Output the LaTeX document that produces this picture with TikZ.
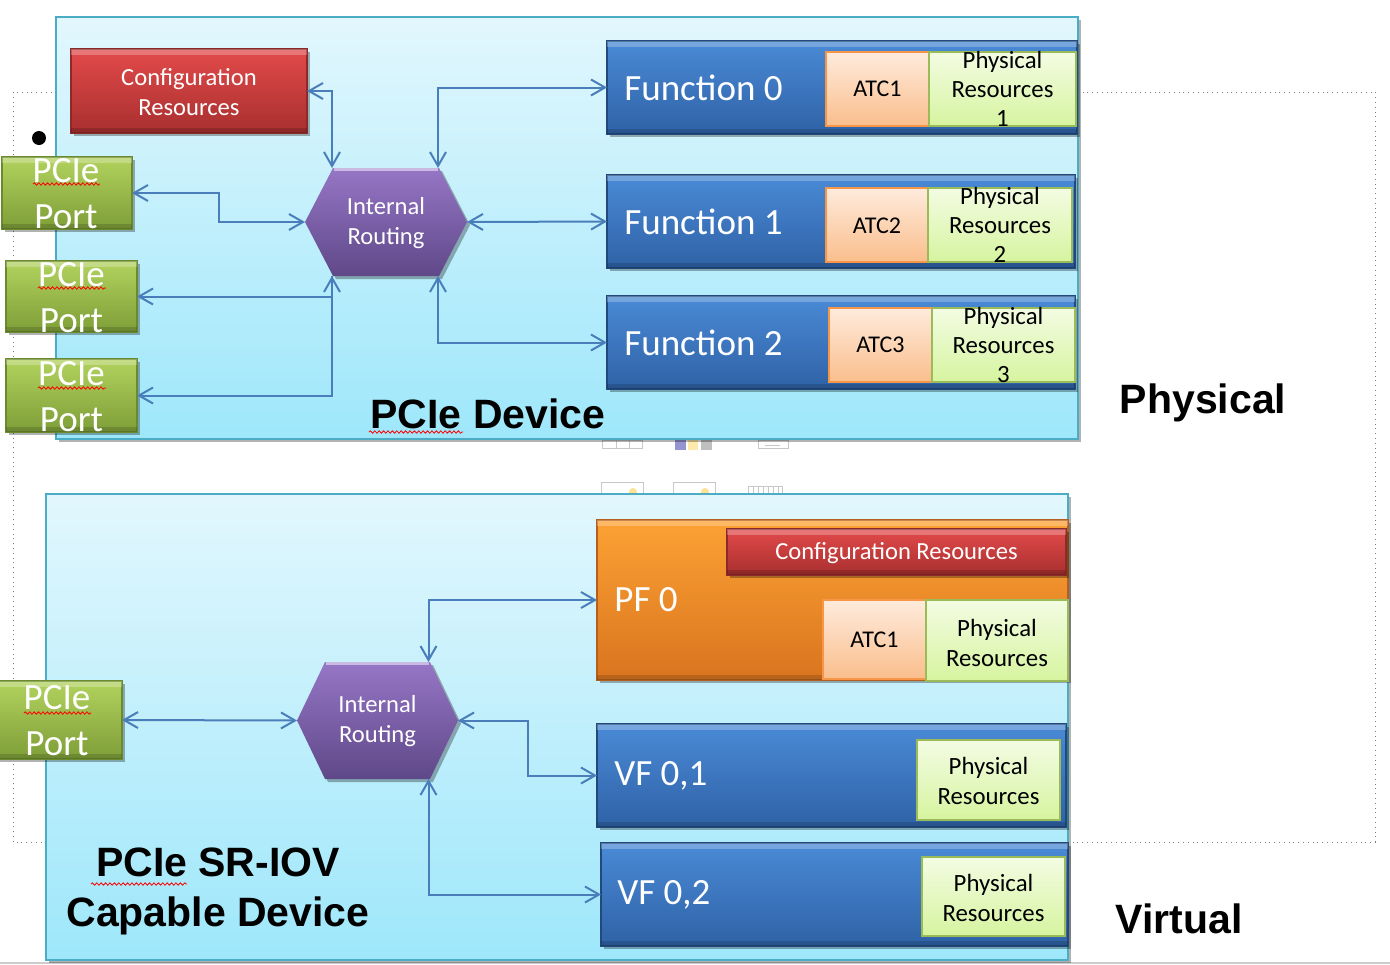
\documentclass[tikz,border=0pt]{standalone}
\usepackage{fontspec}
\setmainfont{Carlito}
\newfontfamily\arialf{Liberation Sans}
\usetikzlibrary{arrows.meta,shadows,fit,calc,decorations.pathmorphing}

\definecolor{devtop}{HTML}{E2F7FD}
\definecolor{devbot}{HTML}{9EE7FB}
\definecolor{devline}{HTML}{4BACC6}
\definecolor{redtop}{HTML}{E34A4A}
\definecolor{redbot}{HTML}{A82F2F}
\definecolor{redline}{HTML}{8C2A2A}
\definecolor{purtop}{HTML}{9676C6}
\definecolor{purbot}{HTML}{5F4888}
\definecolor{grntop}{HTML}{B2D25E}
\definecolor{grnbot}{HTML}{7E9E38}
\definecolor{grnline}{HTML}{6B8A2E}
\definecolor{blutop}{HTML}{4A8AD6}
\definecolor{blubot}{HTML}{2F62A6}
\definecolor{bluline}{HTML}{22497D}
\definecolor{orgtop}{HTML}{FCA234}
\definecolor{orgbot}{HTML}{D9741F}
\definecolor{orgline}{HTML}{B5601A}
\definecolor{atctop}{HTML}{FEEBDC}
\definecolor{atcbot}{HTML}{FABE8C}
\definecolor{atcline}{HTML}{F79646}
\definecolor{prtop}{HTML}{F3FCE3}
\definecolor{prbot}{HTML}{D6F49F}
\definecolor{prline}{HTML}{9BBB59}
\definecolor{arrowc}{HTML}{4A7EBB}
\definecolor{faint}{HTML}{C8C8C8}

\newcommand\hexshape[1]{(#1.west) -- ($(#1.north west)+(28,0)$) -- ($(#1.north east)+(-28,0)$) -- (#1.east) -- ($(#1.south east)+(-28,0)$) -- ($(#1.south west)+(28,0)$) -- cycle}
\newcommand\bevelbox[1]{%
  \fill[white,opacity=0.25] (#1.north west) rectangle ($(#1.north east)+(0,6)$);
  \fill[black,opacity=0.15] ($(#1.south west)+(0,-5)$) rectangle (#1.south east);}

\tikzset{
  box/.style={inner sep=0pt, outer sep=0pt},
  shad/.style={drop shadow={shadow xshift=1.5pt,shadow yshift=-1.5pt,opacity=0.3,fill=black}},
  devbox/.style={box, draw=devline, line width=1pt, top color=devtop, bottom color=devbot, shad},
  redbox/.style={box, draw=redline, line width=0.6pt, top color=redtop, bottom color=redbot, shad},
  redtext/.style={inner sep=0pt, text=white, align=center, font=\fontsize{12.3}{15}\selectfont},
  portbox/.style={box, draw=grnline, line width=0.6pt, top color=grntop, bottom color=grnbot, shad},
  porttext/.style={inner sep=0pt, text=white, align=center, font=\fontsize{18.5}{23}\selectfont},
  funbox/.style={box, draw=bluline, line width=0.6pt, top color=blutop, bottom color=blubot, shad},
  pfbox/.style={box, draw=orgline, line width=0.6pt, top color=orgtop, bottom color=orgbot, shad},
  funtext/.style={inner sep=0pt, anchor=west, text=white, font=\fontsize{18.5}{22}\selectfont},
  atcbox/.style={box, draw=atcline, line width=0.8pt, top color=atctop, bottom color=atcbot},
  atctext/.style={inner sep=0pt, font=\fontsize{12}{15}\selectfont},
  prbox/.style={box, draw=prline, line width=1pt, top color=prtop, bottom color=prbot},
  prtext/.style={inner sep=0pt, align=center, font=\fontsize{12.4}{14.5}\selectfont},
  prtwo/.style={inner sep=0pt, align=center, font=\fontsize{12.4}{15}\selectfont},
  hexbox/.style={box},
  hextext/.style={inner sep=0pt, text=white, align=center, font=\fontsize{12.3}{15}\selectfont},
  bigtext/.style={inner sep=0pt, align=center, font=\arialf\bfseries\fontsize{20.5}{25}\selectfont},
  conn/.style={draw=arrowc, line width=1pt, {Straight Barb[length=7pt,width=8pt]}-{Straight Barb[length=7pt,width=8pt]}},
  connstart/.style={draw=arrowc, line width=1pt, {Straight Barb[length=7pt,width=8pt]}-},
  wavy/.style={draw=red, line width=0.4pt, decorate, decoration={snake, amplitude=0.6pt, segment length=2.2pt}},
  dotframe/.style={draw=gray, line width=0.4pt, dotted},
  faintline/.style={draw=faint, line width=0.5pt}
}

\begin{document}
\begin{tikzpicture}[x=0.5pt,y=-0.5pt]
\useasboundingbox (0,0) rectangle (1390,964);
\fill[white] (0,0) rectangle (1390,964);
\draw[gray!40, line width=0.6pt] (0,963) -- (1390,963);

% dotted frame
\draw[dotframe] (13,92) rectangle (1375,842);

% faint icons between the devices
\draw[faintline] (602,440) rectangle (642,448) (616,440) -- (616,448) (629,440) -- (629,448);
\fill[blue!40!gray!60] (675,440) rectangle (686,450);
\fill[yellow!50!orange!30] (688,440) rectangle (698,450);
\fill[gray!50] (701,440) rectangle (712,450);
\draw[faintline] (758,440) rectangle (788,448) (765,445) -- (780,445);
\draw[faintline] (601,482) rectangle (643,496);
\fill[yellow!50!orange!40] (633,492) circle (4);
\draw[faintline] (673,482) rectangle (715,496);
\fill[yellow!50!orange!40] (705,492) circle (4);
\draw[faintline] (748,486) rectangle (782,493);
\foreach \i in {753,758,763,768,773,778} \draw[faintline] (\i,486) -- (\i,493);

% bullet
\fill[black] (39,138) circle (7);

% ===== top device =====
\node[devbox, fit={(56,17) (1078,439)}] (dev1) {};
\node[redbox, fit={(71,49) (307,133)}] (cfg) {};
\bevelbox{cfg}
\node[redtext] (cfgt) at ($(cfg.center)+(0,1)$) {Configuration\\Resources};

\node[hexbox, fit={(305,168) (467,276)}] (h1) {};
\fill[black,opacity=0.3,transform canvas={shift={(1.5pt,-1.5pt)}}] \hexshape{h1};
\shade[top color=purtop, bottom color=purbot] \hexshape{h1};
\draw[purtop!50!white, line width=1.5pt] ($(h1.north west)+(29,1)$) -- ($(h1.north east)+(-29,1)$);
\node[hextext] (h1t) at ($(h1.center)+(0,1)$) {Internal\\Routing};

\node[funbox, fit={(607,41) (1077,134)}] (f0) {};
\bevelbox{f0}
\node[funbox, fit={(607,175) (1075,268)}] (f1) {};
\bevelbox{f1}
\node[funbox, fit={(607,296) (1075,389)}] (f2) {};
\bevelbox{f2}
\node[funtext] (f0t) at ($(f0.west)+(17,0)$) {Function 0};
\node[funtext] (f1t) at ($(f1.west)+(17,0)$) {Function 1};
\node[funtext] (f2t) at ($(f2.west)+(17,0)$) {Function 2};

\node[atcbox, fit={(826,52) (929,126)}] (atc1) {};
\node[atctext] (atc1t) at (atc1.center) {ATC1};
\node[prbox, fit={(929,52) (1076,126)}] (pr1) {};
\node[prtext] (pr1t) at (pr1.center) {Physical\\Resources\\1};
\node[atcbox, fit={(826,188) (928,262)}] (atc2) {};
\node[atctext] (atc2t) at ($(atc2.center)+(0,1)$) {ATC2};
\node[prbox, fit={(928,188) (1072,262)}] (pr2) {};
\node[prtext] (pr2t) at (pr2.center) {Physical\\Resources\\2};
\node[atcbox, fit={(829,308) (932,382)}] (atc3) {};
\node[atctext] (atc3t) at (atc3.center) {ATC3};
\node[prbox, fit={(932,308) (1075,382)}] (pr3) {};
\node[prtext] (pr3t) at (pr3.center) {Physical\\Resources\\3};

\node[portbox, fit={(2,157) (132,229)}] (p1) {};
\bevelbox{p1}
\node[porttext] (p1t) at ($(p1.center)+(-1,1)$) {PCIe\\Port};
\node[portbox, fit={(6,261) (137,332)}] (p2) {};
\bevelbox{p2}
\node[porttext] (p2t) at ($(p2.center)+(0,1)$) {PCIe\\Port};
\node[portbox, fit={(6,359) (137,432)}] (p3) {};
\bevelbox{p3}
\node[porttext] (p3t) at ($(p3.center)+(0,1)$) {PCIe\\Port};

\node[bigtext] (dev1t) at (488,414) {PCIe Device};

% top connectors
\coordinate (h1a) at ($(h1.north)+(-54,0)$);
\coordinate (h1b) at ($(h1.north)+(52,0)$);
\coordinate (h1c) at ($(h1.south)+(-54,0)$);
\coordinate (h1d) at ($(h1.south)+(52,0)$);
\draw[conn] (cfg.east) -| (h1a);
\draw[conn] (h1b) |- (f0.west);
\draw[conn] (p1.east) -- ++(87,0) |- (h1.west);
\draw[conn] (h1.east) -- (f1.west);
\draw[conn] (p2.east) -| (h1c);
\draw[connstart] (p3.east) -| (h1c);
\draw[conn] (h1d) |- (f2.west);

% ===== bottom device =====
\node[devbox, fit={(46,494) (1068,960)}] (dev2) {};

\node[hexbox, fit={(297,662) (458,779)}] (h2) {};
\fill[black,opacity=0.3,transform canvas={shift={(1.5pt,-1.5pt)}}] \hexshape{h2};
\shade[top color=purtop, bottom color=purbot] \hexshape{h2};
\draw[purtop!50!white, line width=1.5pt] ($(h2.north west)+(29,1)$) -- ($(h2.north east)+(-29,1)$);
\node[hextext] (h2t) at ($(h2.center)+(0,1)$) {Internal\\Routing};

\node[pfbox, fit={(597,520) (1068,680)}] (pf) {};
\bevelbox{pf}
\node[redbox, fit={(727,529) (1066,575)}] (cfg2) {};
\bevelbox{cfg2}
\node[redtext] (cfg2t) at ($(cfg2.center)+(0,1)$) {Configuration Resources};
\node[atcbox, fit={(823,600) (926,679)}] (atcb) {};
\node[atctext] (atcbt) at (atcb.center) {ATC1};
\node[prbox, fit={(926,600) (1068,681)}] (prb) {};
\node[prtwo] (prbt) at ($(prb.center)+(0,2)$) {Physical\\Resources};
\node[funtext] (pft) at ($(pf.west)+(17,0)$) {PF 0};

\node[funbox, fit={(597,724) (1066,827)}] (vf1) {};
\bevelbox{vf1}
\node[prbox, fit={(917,740) (1060,820)}] (prv1) {};
\node[prtwo] (prv1t) at ($(prv1.center)+(0,1)$) {Physical\\Resources};
\node[funtext] (vf1t) at ($(vf1.west)+(17,0)$) {VF 0,1};

\node[funbox, fit={(601,843) (1068,946)}] (vf2) {};
\bevelbox{vf2}
\node[prbox, fit={(922,857) (1065,936)}] (prv2) {};
\node[prtwo] (prv2t) at ($(prv2.center)+(0,1)$) {Physical\\Resources};
\node[funtext] (vf2t) at ($(vf2.west)+(16,0)$) {VF 0,2};

\node[portbox, fit={(-8,681) (122,759)}] (bp) {};
\bevelbox{bp}
\node[porttext] (bpt) at ($(bp.center)+(0,1)$) {PCIe\\Port};

\node[bigtext] (dev2t) at (218,891) {PCIe SR-IOV\\Capable Device};

% bottom connectors
\coordinate (h2a) at ($(h2.north)+(51,0)$);
\coordinate (h2b) at ($(h2.south)+(51,0)$);
\draw[conn] (bp.east) -- (h2.west);
\draw[conn] (h2a) |- (pf.west);
\draw[conn] (h2.east) -- ++(70,0) |- (vf1.west);
\draw[conn] (h2b) |- (vf2.west);

% side labels
\node[bigtext] (phys) at (1203,403) {Physical};
\node[bigtext] (virt) at (1179,919) {Virtual};

% spell-check underlines
\draw[wavy] (33,184) -- (100,184);
\draw[wavy] (38,288) -- (106,288);
\draw[wavy] (38,388) -- (106,388);
\draw[wavy] (24,713) -- (91,713);
\draw[wavy] (369,432) -- (463,432);
\draw[wavy] (91,884) -- (187,884);
\end{tikzpicture}
\end{document}
